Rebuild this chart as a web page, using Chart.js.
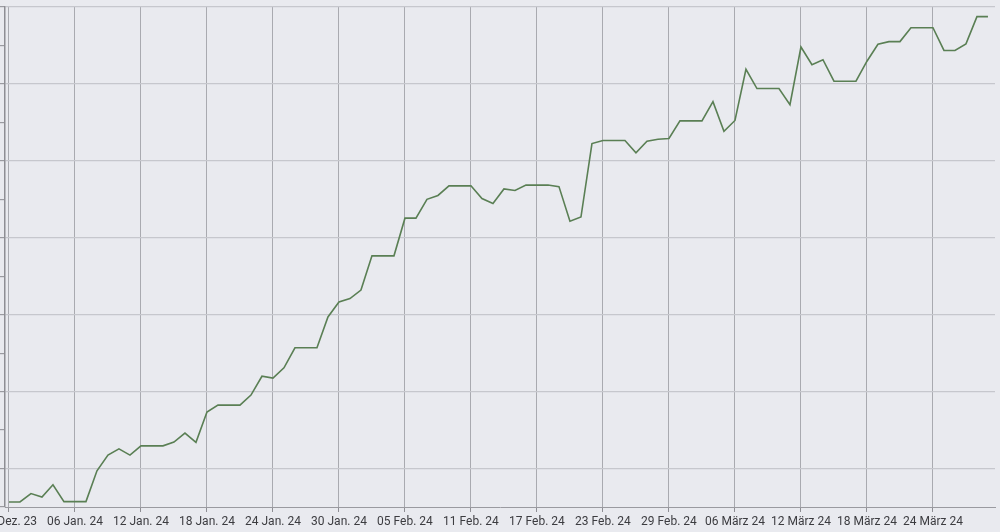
<!DOCTYPE html>
<html>
<head>
<meta charset="utf-8">
<script src="https://cdn.jsdelivr.net/npm/chart.js@4/dist/chart.umd.min.js"></script>
<style>
  html, body { margin: 0; padding: 0; background: #e9eaef; overflow: hidden; }
  /* the chart is wider than the window and shifted left, so the first label is cut like in the picture */
  #wrap { position: absolute; left: -40px; top: 0; width: 1040px; height: 532px; }
</style>
</head>
<body>
<div id="wrap"><canvas id="myChart"></canvas></div>
<script>
// first day of the series (index 0)
let startDate = Date.UTC(2023, 11, 31);
let monthNames = ['Jan.', 'Feb.', 'März', 'Apr.', 'Mai', 'Juni', 'Juli', 'Aug.', 'Sep.', 'Okt.', 'Nov.', 'Dez.'];

// days (index from start) that get a label, every 6 days
let tickDays = [0, 6, 12, 18, 24, 30, 36, 42, 48, 54, 60, 66, 72, 78, 84];

// one value per day, 31 Dez. 23 .. 29 März 24
let values = [
  1.3, 1.3, 3.5, 2.6, 5.8, 1.4, 1.4, 1.4, 9.4, 13.5,
  15.1, 13.5, 15.9, 15.9, 15.9, 16.9, 19.2, 16.8, 24.7, 26.5,
  26.5, 26.5, 29.1, 34.0, 33.5, 36.2, 41.4, 41.4, 41.4, 49.4,
  53.3, 54.2, 56.4, 65.3, 65.3, 65.3, 75.1, 75.1, 80.0, 81.0,
  83.5, 83.5, 83.5, 80.2, 78.9, 82.7, 82.3, 83.7, 83.7, 83.7,
  83.3, 74.3, 75.4, 94.5, 95.3, 95.3, 95.3, 92.1, 95.1, 95.6,
  95.8, 100.4, 100.4, 100.4, 105.4, 97.7, 100.5, 113.8, 108.8, 108.8,
  108.8, 104.6, 119.6, 115.0, 116.3, 110.7, 110.7, 110.7, 115.9, 120.3,
  121.0, 121.0, 124.6, 124.6, 124.6, 118.7, 118.7, 120.4, 127.5, 127.5
];

function dayLabel(i) {
  let d = new Date(startDate + Math.round(i) * 86400000);
  let dd = String(d.getUTCDate()).padStart(2, '0');
  let yy = String(d.getUTCFullYear()).slice(2);
  return dd + ' ' + monthNames[d.getUTCMonth()] + ' ' + yy;
}

let ctx = document.getElementById('myChart');

let myChart = new Chart(ctx, {
  type: 'line',
  data: {
    datasets: [{
      data: values.map((v, i) => ({ x: i, y: v })),
      borderColor: '#5a7f54',
      borderWidth: 1.6,
      pointRadius: 0,
      tension: 0,
      fill: false
    }]
  },
  options: {
    responsive: true,
    maintainAspectRatio: false,
    animation: false,
    layout: { padding: { top: 7, right: 5, left: 0, bottom: 0 } },
    plugins: {
      legend: { display: false },
      tooltip: { enabled: false }
    },
    scales: {
      x: {
        type: 'linear',
        min: -0.36,
        max: 89.64,
        afterBuildTicks: s => { s.ticks = tickDays.map(v => ({ value: v })); },
        afterFit: s => { s.height = 25; },
        border: { color: '#9a9aa0', width: 1 },
        grid: {
          color: '#a9aab0',
          lineWidth: 1,
          tickLength: 5,
          tickColor: '#8e8e94'
        },
        ticks: {
          autoSkip: false,
          maxRotation: 0,
          padding: 3,
          color: '#3c3c40',
          font: { family: 'Roboto', size: 12 },
          callback: v => dayLabel(v)
        }
      },
      y: {
        min: 0,
        max: 130,
        afterFit: s => { s.width = 45; },
        border: { color: '#8e8e94', width: 1.5 },
        grid: {
          // full lines only on every second tick, short marks on the others
          color: c => (Math.round(c.tick.value / 10) % 2 === 1) ? '#c6c7cd' : 'rgba(0,0,0,0)',
          lineWidth: 1.2,
          tickLength: 5,
          tickColor: '#9a9aa0'
        },
        ticks: {
          stepSize: 10,
          display: false
        }
      }
    }
  }
});
</script>
</body>
</html>
